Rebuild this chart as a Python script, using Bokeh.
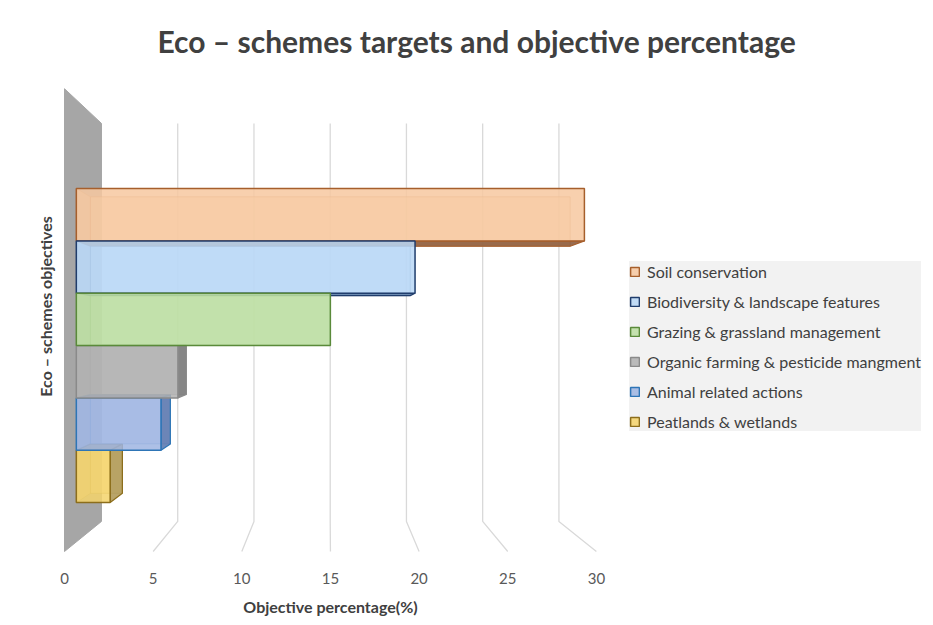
from bokeh.plotting import figure
from bokeh.models import Range1d, FixedTicker, Legend, LegendItem
from bokeh.embed import file_html
from bokeh.resources import INLINE

# ---------------- data ----------------
categories = [
    "Soil conservation",
    "Biodiversity & landscape features",
    "Grazing & grassland management",
    "Organic farming & pesticide mangment",
    "Animal related actions",
    "Peatlands & wetlands",
]
values = [30, 20, 15, 6, 5, 2]
x_ticks = [0, 5, 10, 15, 20, 25, 30]

# ---------------- styles ----------------
front_fill = ["#F7C8A0", "#B8D7F6", "#BCDEA2", "#B0B0B0", "#9FB5E2", "#F5D36B"]
back_fill = ["#F9DCB6", "#CFE3F8", "#D2E9C0", "#C8C8C8", "#BFCDEB", "#F8E29E"]
edge_col = ["#A65F2C", "#203D6C", "#5A8A3A", "#8A8A8A", "#2E75B6", "#8C6E1C"]
side_fill = ["#8E5C3C", "#5F7FA8", "#7FA862", "#7C7C7C", "#5F7BB0", "#B09A5A"]
FONT = "Lato"
TXT = "#404040"

# ---------------- geometry (pseudo 3-D projection) ----------------
S = 17.73            # px per value unit on the front floor
FRAME_W, FRAME_H = 544, 492
X0_OFF = 6           # px between frame left and value 0
CX, CY, K = 14.9, 12.13, 0.14   # vanishing centre, depth shrink
WALL_TOP = 26.1
Y_TOP, ROW_H = 20.86, 3.09
D0, D1 = 0.32, 0.70


def proj(x, y, d):
    f = 1 - K * d
    return CX + (x - CX) * f, CY + (y - CY) * f


def face(pts):
    xs, ys = zip(*[proj(*q) for q in pts])
    return list(xs), list(ys)


p = figure(
    frame_width=FRAME_W, frame_height=FRAME_H,
    x_range=Range1d(-X0_OFF / S, (FRAME_W - X0_OFF) / S),
    y_range=Range1d(-1 / S, (FRAME_H - 1) / S),
    output_backend="svg", toolbar_location=None,
    min_border_left=58, min_border_right=323, min_border_top=60, min_border_bottom=65,
    background_fill_color="white", border_fill_color="white", outline_line_color=None,
)
p.xgrid.visible = False
p.ygrid.visible = False

# title
p.title.text = "Eco \u2013 schemes targets and objective percentage"
p.title.align = "left"
p.title.offset = 99
p.title.text_font = FONT
p.title.text_font_size = "30px"
p.title.text_font_style = "bold"
p.title.text_color = TXT
p.title.standoff = 3

# gridlines (back wall + floor)
gx, gy = [], []
for v in x_ticks[1:]:
    a = proj(v, WALL_TOP, 1)
    b = proj(v, 0, 1)
    c = proj(v, 0, 0)
    gx.append([a[0], b[0], c[0]])
    gy.append([a[1], b[1], c[1]])
p.multi_line(gx, gy, line_color="#D9D9D9", line_width=1.3)

# side wall
wx, wy = face([(0, 0, 0), (0, 0, 1), (0, WALL_TOP, 1), (0, WALL_TOP, 0)])
p.patch(wx, wy, fill_color="#A6A6A6", line_color="#A6A6A6", line_width=1)

# bars
order = [5, 0, 4, 1, 3, 2]
front_r = {}
for i in order:
    v = values[i]
    y1 = Y_TOP - i * ROW_H
    y0 = y1 - ROW_H
    # back face
    xs, ys = face([(0, y0, D1), (v, y0, D1), (v, y1, D1), (0, y1, D1)])
    p.patch(xs, ys, fill_color=back_fill[i], fill_alpha=0.6,
            line_color=edge_col[i], line_alpha=0.45, line_width=1)
    # left face (inner)
    xs, ys = face([(0, y0, D0), (0, y0, D1), (0, y1, D1), (0, y1, D0)])
    p.patch(xs, ys, fill_color=back_fill[i], fill_alpha=0.4,
            line_color=edge_col[i], line_alpha=0.3, line_width=1)
    sides = []
    if v < CX:
        sides.append([(v, y0, D0), (v, y0, D1), (v, y1, D1), (v, y1, D0)])
    if y1 < CY:
        sides.append([(0, y1, D0), (v, y1, D0), (v, y1, D1), (0, y1, D1)])
    if y0 > CY:
        sides.append([(0, y0, D0), (v, y0, D0), (v, y0, D1), (0, y0, D1)])
    for s in sides:
        xs, ys = face(s)
        p.patch(xs, ys, fill_color=side_fill[i], fill_alpha=0.9,
                line_color=edge_col[i], line_width=1.2)
    xs, ys = face([(0, y0, D0), (v, y0, D0), (v, y1, D0), (0, y1, D0)])
    front_r[i] = p.patch(xs, ys, fill_color=front_fill[i], fill_alpha=0.85,
                         line_color=edge_col[i], line_width=1.5)

# axes
xa = p.xaxis[0]
xa.ticker = FixedTicker(ticks=x_ticks)
xa.axis_line_color = None
xa.major_tick_line_color = None
xa.minor_tick_line_color = None
xa.major_label_standoff = 14
xa.major_label_text_font = FONT
xa.major_label_text_font_size = "15px"
xa.major_label_text_color = "#595959"
xa.axis_label = "Objective percentage(%)"
xa.axis_label_text_font = FONT
xa.axis_label_text_font_size = "16px"
xa.axis_label_text_font_style = "bold"
xa.axis_label_text_color = TXT
xa.axis_label_standoff = 10

ya = p.yaxis[0]
ya.ticker = FixedTicker(ticks=[])
ya.axis_line_color = None
ya.major_tick_line_color = None
ya.minor_tick_line_color = None
ya.major_label_text_font_size = "0px"
ya.axis_label = "Eco \u2013 schemes objectives"
ya.axis_label_text_font = FONT
ya.axis_label_text_font_size = "16px"
ya.axis_label_text_font_style = "bold"
ya.axis_label_text_color = TXT
ya.axis_label_standoff = 4

legend = Legend(
    items=[LegendItem(label=categories[i], renderers=[front_r[i]]) for i in range(len(categories))],
    location=(27, 121), margin=0, padding=7, spacing=10,
    label_height=20, glyph_width=11, glyph_height=11, label_standoff=7,
    background_fill_color="#F2F2F2", background_fill_alpha=1, border_line_color=None,
    label_text_font=FONT, label_text_font_size="16px", label_text_color=TXT,
)
p.add_layout(legend, "right")

open("out.html", "w").write(file_html(p, INLINE))
